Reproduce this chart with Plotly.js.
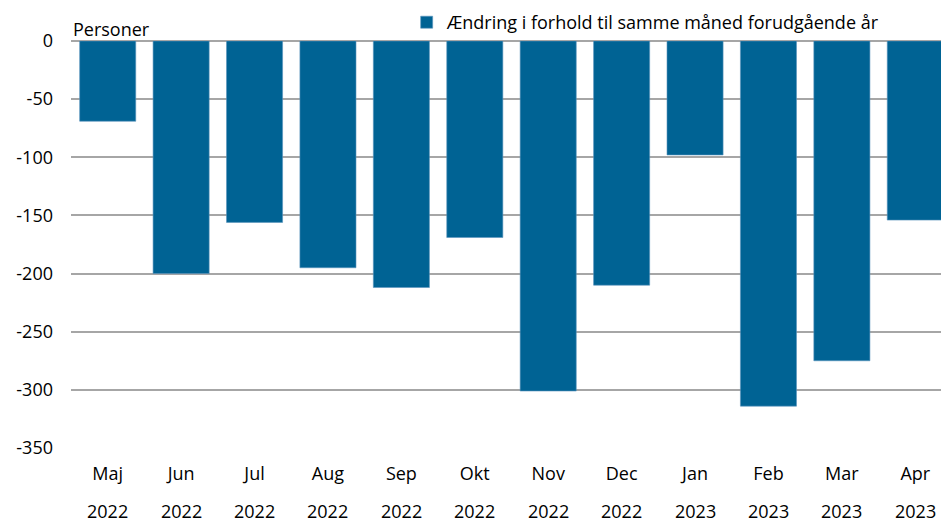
<!DOCTYPE html>
<html>
<head>
<meta charset="utf-8">
<script src="https://cdn.plot.ly/plotly-3.0.1.min.js"></script>
<style>
html,body{margin:0;padding:0;overflow:hidden;background:#fff;}
#chart{width:952px;height:524px;}
</style>
</head>
<body>
<div id="chart"></div>
<script>
const months = ["Maj","Jun","Jul","Aug","Sep","Okt","Nov","Dec","Jan","Feb","Mar","Apr"];
const years = ["2022","2022","2022","2022","2022","2022","2022","2022","2023","2023","2023","2023"];
const values = [-69,-200,-156,-195,-212,-169,-301,-210,-98,-314,-275,-154];
const seriesName = "Ændring i forhold til samme måned forudgående år";
const yTicks = [0,-50,-100,-150,-200,-250,-300,-350];
const yLabel = "Personer";

const FONT = "Open Sans, Noto Sans, sans-serif";
const cats = months.map((m,i)=>m+" "+years[i]);

const trace = {
  type: "bar",
  x: cats,
  y: values,
  name: seriesName,
  marker: {color: "#006394", line: {color: "#5b93bd", width: 0.6}},
  hoverinfo: "x+y"
};

const annotations = [{
  text: yLabel, xref: "paper", yref: "paper", x: 0.0, y: 1,
  xanchor: "left", yanchor: "middle", yshift: 12, showarrow: false,
  font: {family: FONT, size: 18, color: "#000"}
}];
cats.forEach((c,i)=>{
  annotations.push({
    text: years[i], xref: "x", yref: "paper", x: c, y: 0,
    xanchor: "center", yanchor: "middle", yshift: -63, showarrow: false,
    font: {family: FONT, size: 18, color: "#000"}
  });
});

const layout = {
  width: 952, height: 524,
  margin: {l: 71, r: 0, t: 41, b: 76},
  paper_bgcolor: "#fff", plot_bgcolor: "#fff",
  font: {family: FONT, size: 18, color: "#000"},
  bargap: 0.236,
  showlegend: true,
  legend: {x: 0.381, y: 1, xanchor: "left", yanchor: "bottom",
           font: {family: FONT, size: 18, color: "#000"},
           bgcolor: "rgba(0,0,0,0)", orientation: "h"},
  xaxis: {
    type: "category", tickmode: "array", tickvals: cats, ticktext: months,
    showgrid: false, zeroline: false, showline: false, ticks: "",
    ticklabelstandoff: 13,
    tickfont: {family: FONT, size: 18, color: "#000"}, automargin: false
  },
  yaxis: {
    range: [-350, 0], tickmode: "array", tickvals: yTicks,
    ticktext: yTicks.map(String),
    showgrid: true, gridcolor: "#a6a6a6", gridwidth: 1.5,
    zeroline: true, zerolinecolor: "#a6a6a6", zerolinewidth: 1.5,
    showline: false, ticks: "", ticklabelstandoff: 17,
    tickfont: {family: FONT, size: 18, color: "#000"}, automargin: false
  },
  annotations: annotations
};

Plotly.newPlot("chart", [trace], layout, {displayModeBar: false, responsive: false});
</script>
</body>
</html>
